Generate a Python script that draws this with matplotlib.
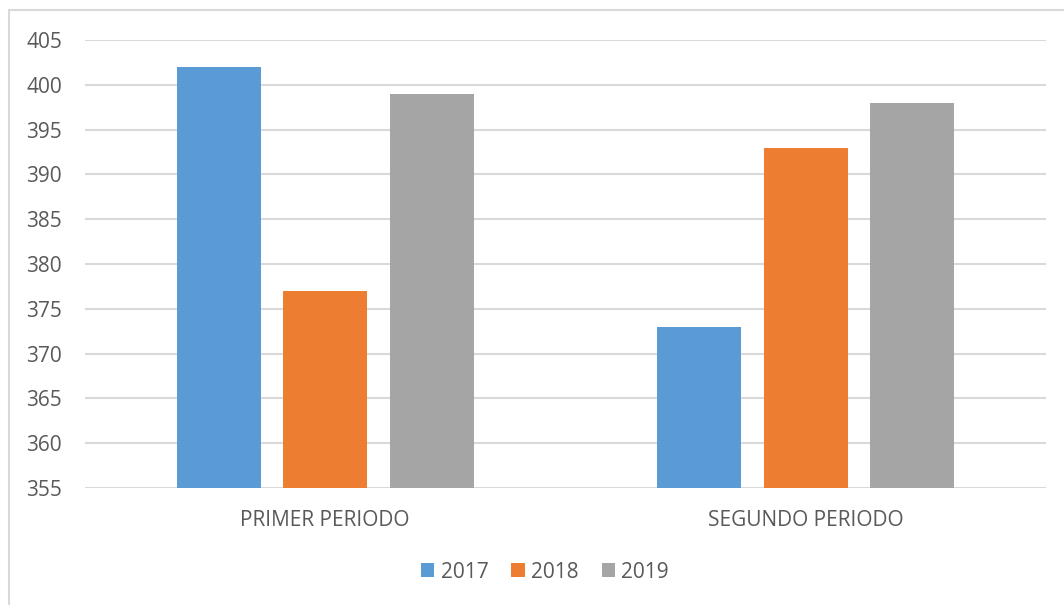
import numpy as np
import matplotlib.pyplot as plt
from matplotlib.patches import Rectangle

periodos = ['PRIMER PERIODO', 'SEGUNDO PERIODO']
anios = ['2017', '2018', '2019']
v2017 = [402, 373]
v2018 = [377, 393]
v2019 = [399, 398]
colores = ['#5B9BD5', '#ED7D31', '#A5A5A5']

plt.rcParams['font.family'] = ['Open Sans', 'DejaVu Sans']

fig = plt.figure(figsize=(10.64, 6.05), dpi=100)
ax = fig.add_axes([85/1064, 1-488/605, 961/1064, 448/605])

# marco del grafico (recortado a la derecha y abajo)
fig.patches.append(Rectangle((9/1064, -0.05), 1.2, 1-10/605+0.05, transform=fig.transFigure,
                             fill=False, edgecolor='#d9d9d9', linewidth=1.5))

x = np.arange(len(periodos))
ancho = 0.175
paso = 0.2217
for i, (serie, nombre) in enumerate(zip([v2017, v2018, v2019], anios)):
    ax.bar(x + (i-1)*paso, serie, ancho, color=colores[i], label=nombre, zorder=3)

ax.set_xlim(-0.5, 1.5)
ax.set_ylim(355, 405)
ax.set_yticks(np.arange(355, 406, 5))
ax.set_xticks(x)
ax.set_xticklabels(periodos)
ax.grid(axis='y', color='#d9d9d9', linewidth=1.5, zorder=0)
for s in ax.spines.values():
    s.set_visible(False)
ax.tick_params(axis='both', length=0, colors='#595959', labelsize=15)
ax.tick_params(axis='y', pad=16.5)
ax.tick_params(axis='x', pad=16)

leg = ax.legend(loc='center', bbox_to_anchor=(545/1064, 1-572/605), bbox_transform=fig.transFigure,
                ncol=3, frameon=False, fontsize=15, handlelength=0.65, handleheight=0.65,
                handletextpad=0.3, columnspacing=1.1)
for t in leg.get_texts():
    t.set_color('#595959')

plt.savefig('out.png', dpi=100)
